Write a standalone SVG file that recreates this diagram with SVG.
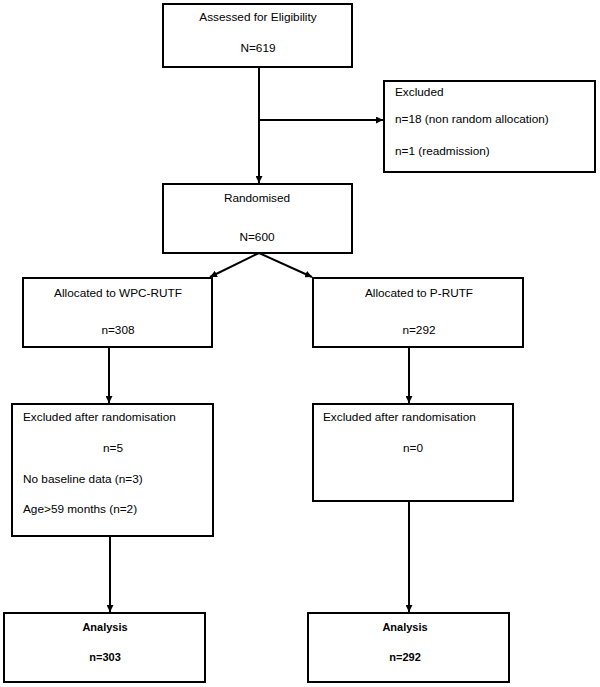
<svg xmlns="http://www.w3.org/2000/svg" width="600" height="687" viewBox="0 0 600 687">
<style>
.box{fill:#fff;stroke:#000;stroke-width:2}
.t{font-family:"Liberation Sans",Arial,sans-serif;font-size:11.8px;fill:#000}
.c{text-anchor:middle}
.b{font-weight:bold;font-size:11px}
.ln{stroke:#000;stroke-width:2;fill:none}
</style>
<defs>
<marker id="ah" viewBox="0 0 10 10" refX="10" refY="5" markerWidth="3.5" markerHeight="3.5" orient="auto" markerUnits="strokeWidth">
<path d="M0,0L10,5L0,10z" fill="#000"/>
</marker>
</defs>
<rect width="600" height="687" fill="#fff"/>
<g id="connectors">
<line class="ln" x1="259" y1="67" x2="259" y2="183" marker-end="url(#ah)"/>
<line class="ln" x1="259" y1="120" x2="383" y2="120" marker-end="url(#ah)"/>
<line class="ln" x1="259" y1="253" x2="210" y2="277" marker-end="url(#ah)"/>
<line class="ln" x1="259" y1="253" x2="312" y2="277" marker-end="url(#ah)"/>
<line class="ln" x1="109" y1="347" x2="109" y2="403" marker-end="url(#ah)"/>
<line class="ln" x1="409" y1="347" x2="409" y2="403" marker-end="url(#ah)"/>
<line class="ln" x1="110" y1="536" x2="110" y2="612" marker-end="url(#ah)"/>
<line class="ln" x1="409" y1="501" x2="409" y2="612" marker-end="url(#ah)"/>
</g>
<g id="assessed">
<rect class="box" x="163" y="4" width="189" height="63"/>
<text class="t c" x="258" y="21">Assessed for Eligibility</text>
<text class="t c" x="258" y="52">N=619</text>
</g>
<g id="excluded">
<rect class="box" x="384" y="81" width="211" height="91"/>
<text class="t" x="395" y="96">Excluded</text>
<text class="t" x="395" y="123">n=18 (non random allocation)</text>
<text class="t" x="395" y="155">n=1 (readmission)</text>
</g>
<g id="randomised">
<rect class="box" x="163" y="184" width="189" height="69"/>
<text class="t c" x="257" y="202">Randomised</text>
<text class="t c" x="257" y="241">N=600</text>
</g>
<g id="alloc-wpc">
<rect class="box" x="23" y="278" width="189" height="69"/>
<text class="t c" x="118" y="297">Allocated to WPC-RUTF</text>
<text class="t c" x="118" y="334">n=308</text>
</g>
<g id="alloc-p">
<rect class="box" x="313" y="278" width="210" height="69"/>
<text class="t c" x="419" y="297">Allocated to P-RUTF</text>
<text class="t c" x="419" y="334">n=292</text>
</g>
<g id="excl-wpc">
<rect class="box" x="12" y="404" width="201" height="132"/>
<text class="t" x="23" y="421">Excluded after randomisation</text>
<text class="t c" x="113" y="452">n=5</text>
<text class="t" x="23" y="483">No baseline data (n=3)</text>
<text class="t" x="23" y="513">Age&gt;59 months (n=2)</text>
</g>
<g id="excl-p">
<rect class="box" x="313" y="404" width="200" height="97"/>
<text class="t" x="323" y="421">Excluded after randomisation</text>
<text class="t c" x="413" y="452">n=0</text>
</g>
<g id="analysis-wpc">
<rect class="box" x="4" y="613" width="201" height="69"/>
<text class="t c b" x="105" y="631">Analysis</text>
<text class="t c b" x="105" y="661">n=303</text>
</g>
<g id="analysis-p">
<rect class="box" x="308" y="613" width="201" height="69"/>
<text class="t c b" x="405" y="631">Analysis</text>
<text class="t c b" x="405" y="661">n=292</text>
</g>
</svg>
